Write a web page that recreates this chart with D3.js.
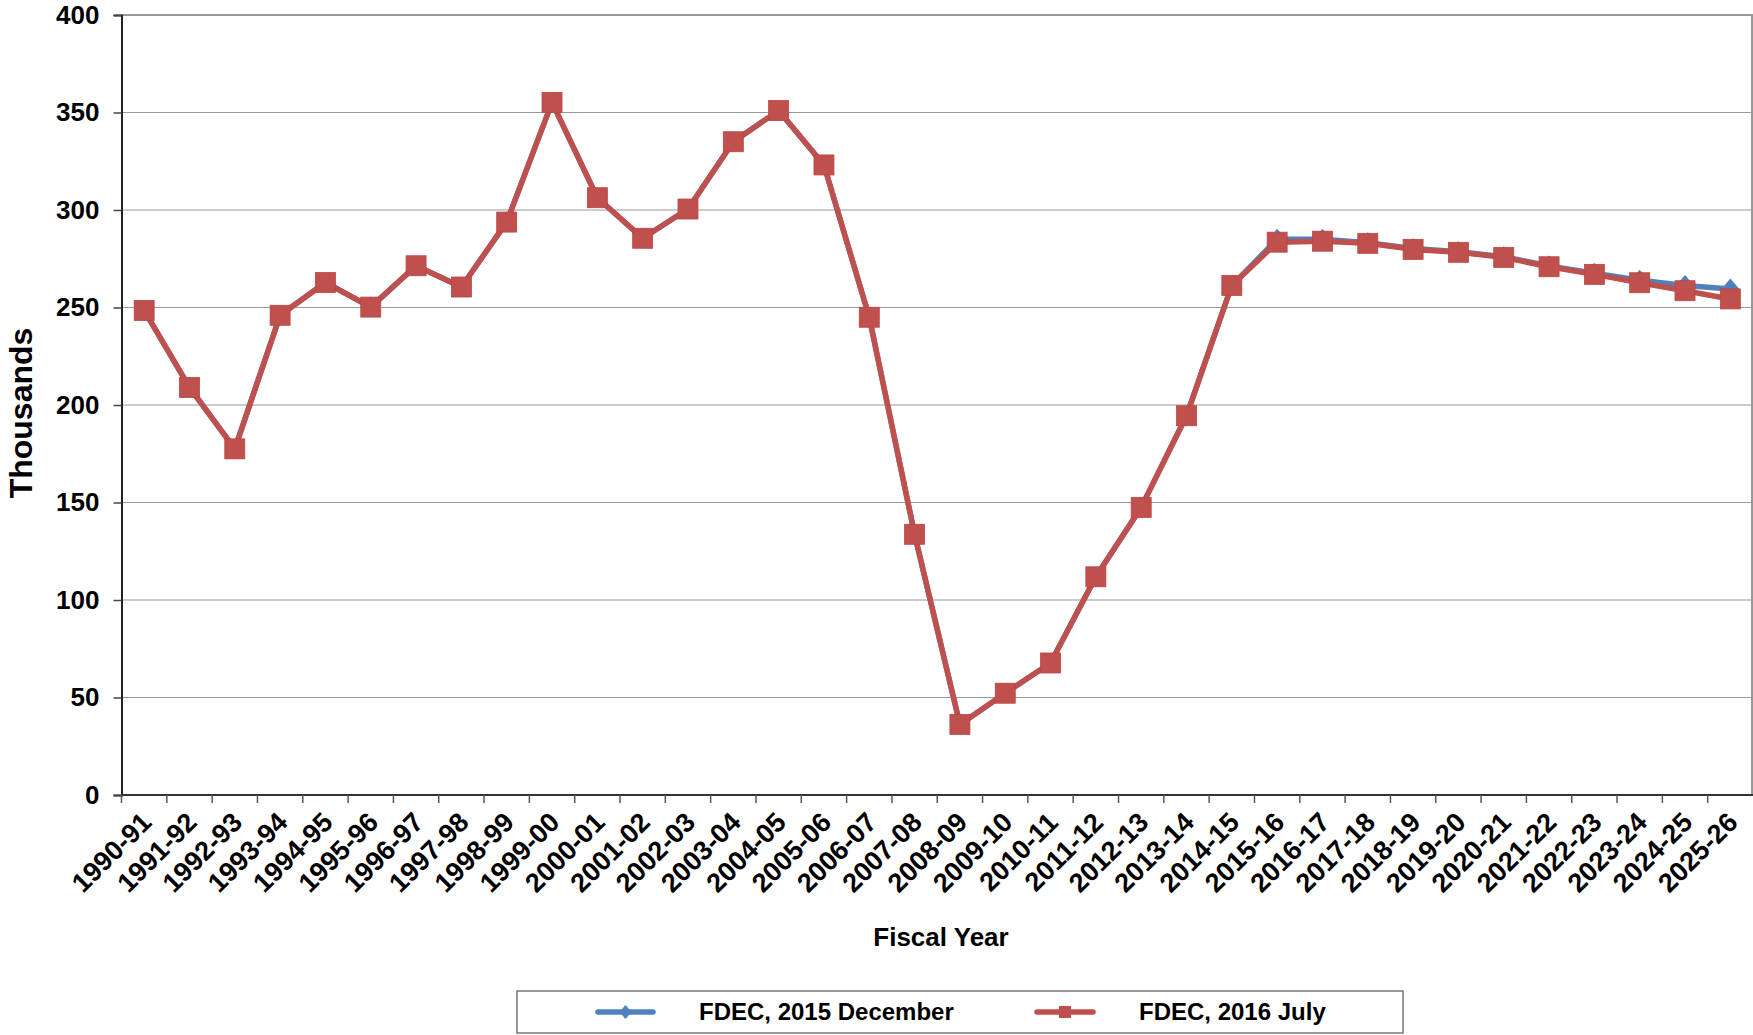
<!DOCTYPE html>
<html>
<head>
<meta charset="utf-8">
<script src="https://cdn.jsdelivr.net/npm/d3@7"></script>
<style>
  html, body { margin: 0; padding: 0; background: #fff; }
  svg { display: block; font-family: "Liberation Sans", Arial, sans-serif; font-weight: bold; }
</style>
</head>
<body>
<svg id="chart" width="1753" height="1035"></svg>
<script>
const categories = ["1990-91","1991-92","1992-93","1993-94","1994-95","1995-96","1996-97","1997-98","1998-99","1999-00",
  "2000-01","2001-02","2002-03","2003-04","2004-05","2005-06","2006-07","2007-08","2008-09","2009-10",
  "2010-11","2011-12","2012-13","2013-14","2014-15","2015-16","2016-17","2017-18","2018-19","2019-20",
  "2020-21","2021-22","2022-23","2023-24","2024-25","2025-26"];

const fdecDec2015 = [248.5,209,177.5,246,262.8,250.2,271.4,260.5,293.8,355.2,
  306.3,285.5,300.5,335,351,323.1,245,133.7,36.2,52.2,
  67.7,111.9,147.5,194.5,261.3,285,285,283.2,280.3,278.6,
  276,271.3,267.6,264,261.3,259.5];

const fdecJul2016 = [248.5,209,177.5,246,262.8,250.2,271.4,260.5,293.8,355.2,
  306.3,285.5,300.5,335,351,323.1,245,133.7,36.2,52.2,
  67.7,111.9,147.5,194.5,261.3,283.5,284,282.9,279.8,278.3,
  275.7,270.9,267,262.7,258.6,254.4];

const yTicks = [0,50,100,150,200,250,300,350,400];
const seriesNames = ["FDEC, 2015 December","FDEC, 2016 July"];
const seriesColors = ["#4F81BD","#C0504D"];

const svg = d3.select("#chart");
const pLeft = 121.5, pRight = 1753, pTop = 15, pBottom = 795;

const x = d3.scaleBand().domain(categories).range([pLeft, pRight]).padding(0);
const y = d3.scaleLinear().domain([0, 400]).range([pBottom, pTop]);
const cx = c => x(c) + x.bandwidth() / 2;

// gridlines
svg.append("g").selectAll("line").data(yTicks.filter(t => t > 0 && t < 400)).join("line")
  .attr("x1", pLeft).attr("x2", pRight).attr("y1", d => y(d)).attr("y2", d => y(d))
  .attr("stroke", "#333").attr("stroke-width", 1).attr("stroke-dasharray", "1,1");

// top & right border
svg.append("line").attr("x1", pLeft).attr("x2", pRight).attr("y1", y(400)).attr("y2", y(400))
  .attr("stroke", "#999").attr("stroke-width", 2);
svg.append("line").attr("x1", pRight - 1).attr("x2", pRight - 1).attr("y1", y(400)).attr("y2", y(0))
  .attr("stroke", "#999").attr("stroke-width", 2);

// y axis
const yAxis = d3.axisLeft(y).tickValues(yTicks).tickSize(8).tickPadding(14);
const gy = svg.append("g").attr("transform", `translate(${pLeft},0)`).call(yAxis);
gy.select(".domain").attr("stroke", "#222").attr("stroke-width", 2);
gy.selectAll(".tick line").attr("stroke", "#444").attr("stroke-width", 1.5);
gy.selectAll(".tick text").attr("font-size", 26).attr("font-weight", "bold")
  .attr("font-family", "Liberation Sans, Arial, sans-serif").attr("fill", "#000");

// x axis baseline
svg.append("line").attr("x1", pLeft).attr("x2", pRight).attr("y1", pBottom).attr("y2", pBottom)
  .attr("stroke", "#333").attr("stroke-width", 2);
// x ticks at category boundaries
const boundaries = categories.map(c => x(c));
svg.append("g").selectAll("line").data(boundaries).join("line")
  .attr("x1", d => d).attr("x2", d => d).attr("y1", pBottom).attr("y2", pBottom + 8)
  .attr("stroke", "#555").attr("stroke-width", 1.5);
// x labels
svg.append("g").selectAll("text").data(categories).join("text")
  .attr("transform", d => `translate(${cx(d) + 9},${pBottom + 29}) rotate(-45)`)
  .attr("text-anchor", "end").attr("font-size", 27).attr("fill", "#000")
  .text(d => d);

// axis titles
svg.append("text").attr("x", 941).attr("y", 946).attr("text-anchor", "middle")
  .attr("font-size", 26).text("Fiscal Year");
svg.append("text").attr("transform", "translate(32,413) rotate(-90)").attr("text-anchor", "middle")
  .attr("font-size", 32).text("Thousands");

// lines
const line = d3.line().x((d, i) => cx(categories[i])).y(d => y(d));
const allSeries = [fdecDec2015, fdecJul2016];
allSeries.forEach((s, k) => {
  svg.append("path").datum(s).attr("d", line).attr("fill", "none")
    .attr("stroke", seriesColors[k]).attr("stroke-width", 5.5).attr("stroke-linejoin", "round");
});
// blue diamonds
svg.append("g").selectAll("path").data(fdecDec2015).join("path")
  .attr("transform", (d, i) => `translate(${cx(categories[i])},${y(d)})`)
  .attr("d", "M0,-10.5L9,0L0,10.5L-9,0Z").attr("fill", seriesColors[0]);
// red squares
svg.append("g").selectAll("rect").data(fdecJul2016).join("rect")
  .attr("x", (d, i) => cx(categories[i]) - 10).attr("y", d => y(d) - 10)
  .attr("width", 20).attr("height", 20).attr("fill", seriesColors[1])
  .attr("stroke", "#B84744").attr("stroke-width", 0.8);

// legend
const lg = svg.append("g");
lg.append("rect").attr("x", 517).attr("y", 991).attr("width", 886).attr("height", 42)
  .attr("fill", "#fff").attr("stroke", "#555").attr("stroke-width", 1.2);
const legendItems = [
  {name: seriesNames[0], color: seriesColors[0], x1: 598, x2: 653, tx: 699, shape: "diamond"},
  {name: seriesNames[1], color: seriesColors[1], x1: 1037, x2: 1093, tx: 1139, shape: "square"}
];
legendItems.forEach(it => {
  lg.append("line").attr("x1", it.x1).attr("x2", it.x2).attr("y1", 1012).attr("y2", 1012)
    .attr("stroke", it.color).attr("stroke-width", 5.5).attr("stroke-linecap", "round");
  const mx = (it.x1 + it.x2) / 2;
  if (it.shape === "diamond") {
    lg.append("path").attr("transform", `translate(${mx},1012)`).attr("d", "M0,-7L6,0L0,7L-6,0Z").attr("fill", it.color);
  } else {
    lg.append("rect").attr("x", mx - 6).attr("y", 1006).attr("width", 12).attr("height", 12).attr("fill", it.color);
  }
  lg.append("text").attr("x", it.tx).attr("y", 1020).attr("font-size", 24).attr("fill", "#000").text(it.name);
});
</script>
</body>
</html>
